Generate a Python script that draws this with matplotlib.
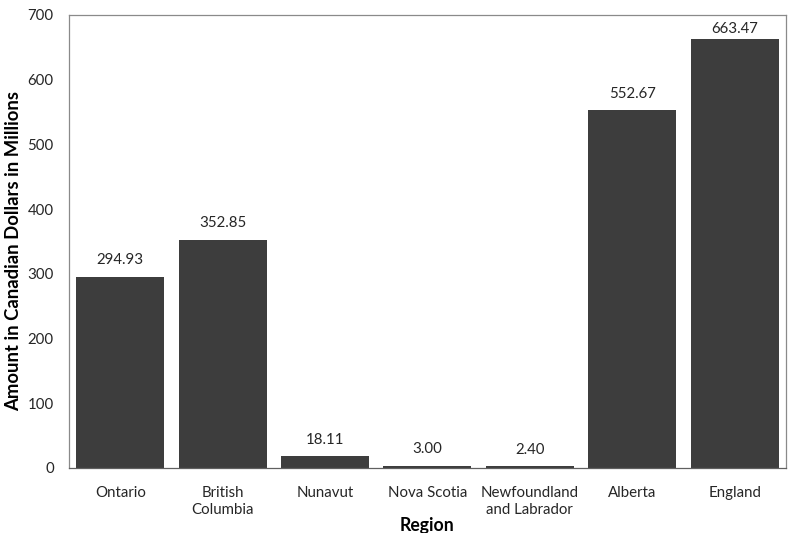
import matplotlib
matplotlib.use("Agg")
import matplotlib.pyplot as plt

regions = ["Ontario", "British\nColumbia", "Nunavut", "Nova Scotia",
           "Newfoundland\nand Labrador", "Alberta", "England"]
amounts = [294.93, 352.85, 18.11, 3.00, 2.40, 552.67, 663.47]
yticks = [0, 100, 200, 300, 400, 500, 600, 700]

plt.rcParams['font.family'] = ['Lato', 'DejaVu Sans']

fig = plt.figure(figsize=(7.89, 5.33), dpi=100)
ax = fig.add_axes([0.0875, 0.122, 0.9085, 0.850])
x = list(range(len(regions)))
ymax = 700
bars = ax.bar(x, amounts, width=0.86, color="#3d3d3d")
for xi, v in zip(x, amounts):
    # keep labels inside plot area, as the original does
    off = 7 if v < ymax * 0.93 else 2
    ax.annotate(f"{v:.2f}", (xi, v), xytext=(0, off), textcoords="offset points",
                ha="center", va="bottom", fontsize=10.8, color="#262626")
ax.set_xlim(-0.5, len(regions) - 0.5)
ax.set_ylim(0, ymax)
ax.set_yticks(yticks)
ax.set_xticks(x)
ax.set_xticklabels(regions, fontsize=10.8, color="#262626", linespacing=1.25)
ax.tick_params(axis="y", labelsize=10.8, labelcolor="#262626", length=0, pad=11)
ax.tick_params(axis="x", length=0, pad=13)
for s in ax.spines.values():
    s.set_color("#8a8a8a")
    s.set_linewidth(0.9)
ax.spines["bottom"].set_color("#606060")
ax.set_xlabel("Region", fontsize=12.7, fontweight="bold", labelpad=0)
ax.set_ylabel("Amount in Canadian Dollars in Millions", fontsize=13.3,
              fontweight="bold")
ax.yaxis.set_label_coords(-0.066, 0.48)
fig.savefig("out.png", dpi=100)
